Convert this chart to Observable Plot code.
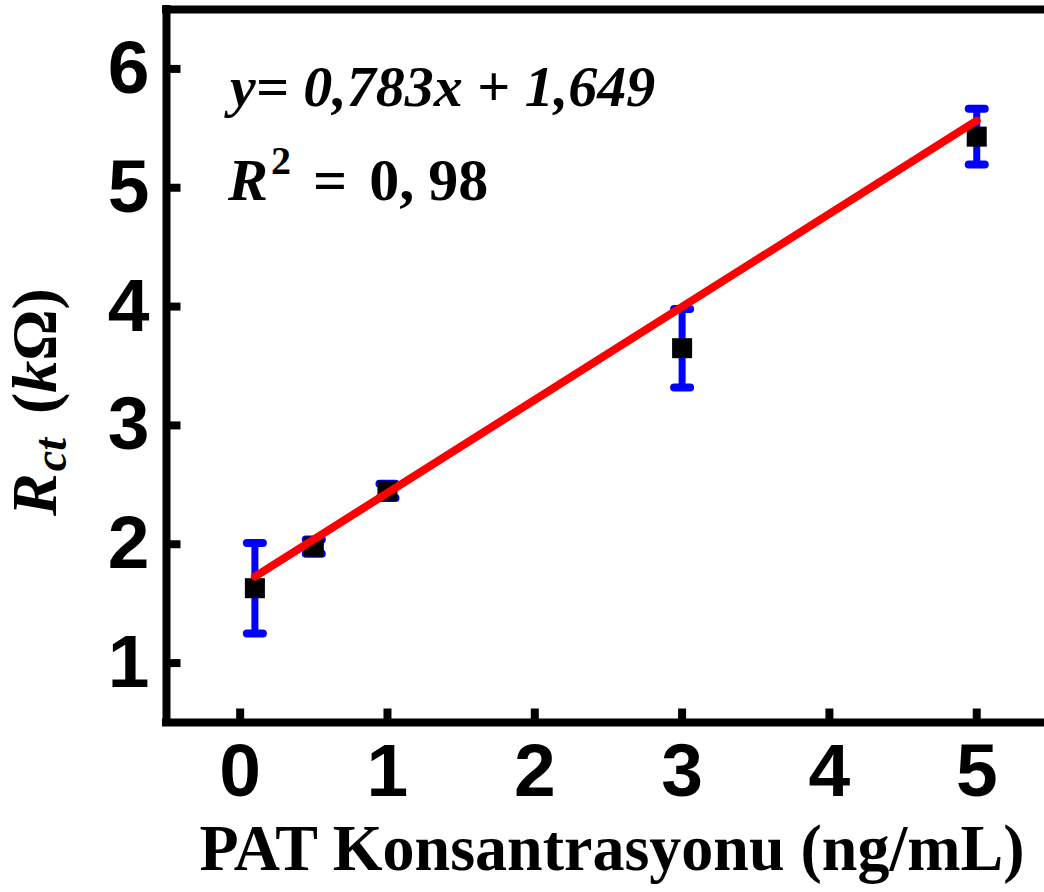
<!DOCTYPE html>
<html><head><meta charset="utf-8">
<script src="https://cdn.jsdelivr.net/npm/d3@7"></script>
<script src="https://cdn.jsdelivr.net/npm/@observablehq/plot@0.6"></script>
<style>html,body{margin:0;padding:0;background:#fff;overflow:hidden}</style>
</head><body><div id="chart"></div>
<script>
// Data
const concentrations = [0.1, 0.5, 1, 3, 5];          // PAT (ng/mL)
const rctValues      = [1.63, 1.98, 2.45, 3.65, 5.43]; // Rct (kΩ)
const rctErrors      = [0.38, 0.06, 0.06, 0.33, 0.235];
const xTickValues = [0, 1, 2, 3, 4, 5];
const yTickValues = [1, 2, 3, 4, 5, 6];
const fitSlope = 0.783, fitIntercept = 1.649;
const xDomain = [-0.5, 5.46];
const yDomain = [0.5, 6.5];

const points = concentrations.map((x, i) => ({x, y: rctValues[i], e: rctErrors[i]}));
const fitLine = [concentrations[0], concentrations[concentrations.length - 1]]
  .map(x => ({x, y: fitSlope * x + fitIntercept}));

const capSymbol = {draw(ctx, size) {const r = Math.sqrt(size / Math.PI); ctx.moveTo(-r, 0); ctx.lineTo(r, 0);}};
const yTickSymbol = {draw(ctx, size) {const r = Math.sqrt(size / Math.PI); ctx.moveTo(0, 0); ctx.lineTo(r, 0);}};
const xTickSymbol = {draw(ctx, size) {const r = Math.sqrt(size / Math.PI); ctx.moveTo(0, 0); ctx.lineTo(0, -r);}};

const sans = "'Liberation Sans', Arial, sans-serif";
const serif = "'Liberation Serif', 'Times New Roman', serif";
const fmt = d => String(d);

const svg = Plot.plot({
  width: 1044,
  height: 892,
  marginTop: 9,
  marginLeft: 166,
  marginRight: 0,
  marginBottom: 170,
  style: {background: "#fff", color: "#000"},
  x: {domain: xDomain},
  y: {domain: yDomain},
  marks: [
    Plot.axisX({ticks: xTickValues, tickFormat: fmt, tickSize: 0, tickPadding: 20, fontSize: 75, fontWeight: "bold", fontFamily: sans, label: null}),
    Plot.axisY({ticks: yTickValues, tickFormat: fmt, tickSize: 0, tickPadding: 17, fontSize: 75, fontWeight: "bold", fontFamily: sans, label: null}),
    Plot.dot(yTickValues, {x: () => xDomain[0], y: d => d, symbol: yTickSymbol, r: 14, fill: "none", stroke: "#000", strokeWidth: 8}),
    Plot.dot(xTickValues, {x: d => d, y: () => yDomain[0], symbol: xTickSymbol, r: 14, fill: "none", stroke: "#000", strokeWidth: 8}),
    Plot.ruleX([xDomain[0]], {stroke: "#000", strokeWidth: 8, strokeLinecap: "square"}),
    Plot.ruleY([yDomain[0], yDomain[1]], {stroke: "#000", strokeWidth: 8, strokeLinecap: "square"}),
    Plot.ruleX(points, {x: "x", y1: d => d.y - d.e, y2: d => d.y + d.e, stroke: "#0000ff", strokeWidth: 7}),
    Plot.dot(points, {x: "x", y: d => d.y - d.e, symbol: capSymbol, r: 8, fill: "none", stroke: "#0000ff", strokeWidth: 8, strokeLinecap: "round"}),
    Plot.dot(points, {x: "x", y: d => d.y + d.e, symbol: capSymbol, r: 8, fill: "none", stroke: "#0000ff", strokeWidth: 8, strokeLinecap: "round"}),
    Plot.dot(points, {x: "x", y: "y", symbol: "square", r: 11.3, fill: "#000", stroke: "none"}),
    Plot.line(fitLine, {x: "x", y: "y", stroke: "#ff0000", strokeWidth: 8})
  ]
});

const s = d3.select(svg);

// Regression equation
const eq = s.append("text").attr("x", 230).attr("y", 106).attr("text-anchor", "start")
  .attr("font-family", serif).attr("font-weight", "bold").attr("font-style", "italic").attr("font-size", 58);
eq.append("tspan").text("y= 0,783x ");
eq.append("tspan").attr("font-style", "normal").text("+");
eq.append("tspan").text(" 1,649");

// R²
const r2 = s.append("text").attr("x", 228).attr("y", 200).attr("text-anchor", "start")
  .attr("font-family", serif).attr("font-weight", "bold").attr("font-size", 60);
r2.append("tspan").attr("font-style", "italic").text("R");
r2.append("tspan").attr("font-size", 40).attr("dy", -26).attr("dx", 3).text("2");
r2.append("tspan").attr("dy", 26).attr("dx", 22).text("=");
r2.append("tspan").attr("dx", 22).text("0,");
r2.append("tspan").attr("dx", 14).text("98");

// Y axis title
const yl = s.append("text").attr("transform", "translate(56,402) rotate(-90)")
  .attr("text-anchor", "middle").attr("font-family", serif).attr("font-weight", "bold").attr("font-size", 64);
yl.append("tspan").attr("font-style", "italic").text("R");
yl.append("tspan").attr("font-style", "italic").attr("font-size", 46).attr("dy", 10).attr("dx", 2).text("ct");
yl.append("tspan").attr("dy", -10).attr("dx", 8).text(" (");
yl.append("tspan").attr("font-style", "italic").text("k");
yl.append("tspan").text("Ω)");

// X axis title
s.append("text").attr("x", 612).attr("y", 870).attr("text-anchor", "middle")
  .attr("font-family", serif).attr("font-weight", "bold").attr("font-size", 65)
  .attr("textLength", 825).attr("lengthAdjust", "spacingAndGlyphs")
  .text("PAT Konsantrasyonu (ng/mL)");

document.getElementById("chart").appendChild(svg);
</script>
</body></html>
